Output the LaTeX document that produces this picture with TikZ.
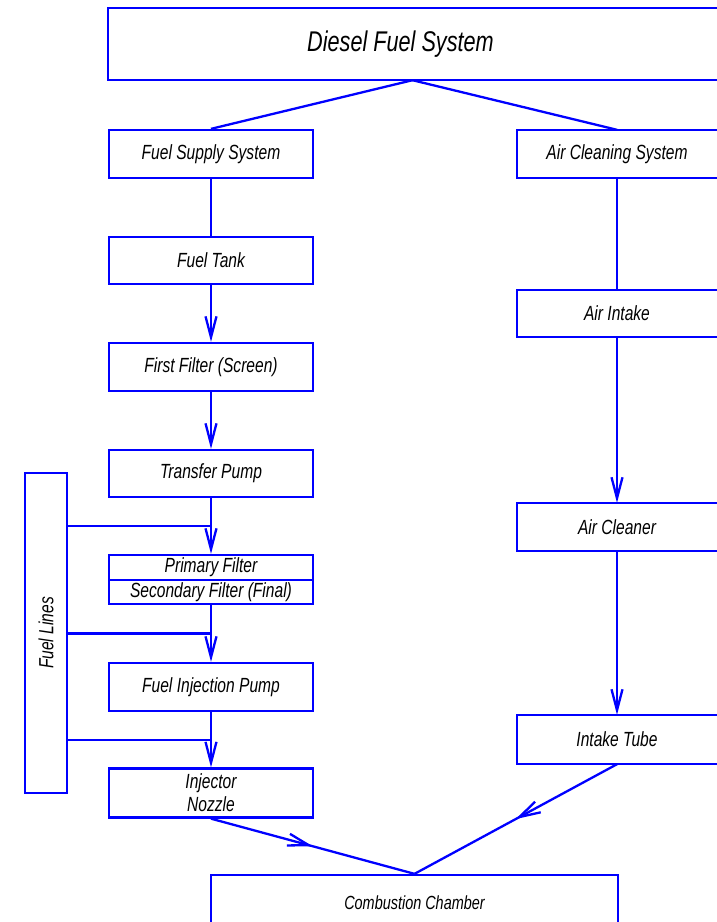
\documentclass[tikz,border=0pt]{standalone}
\usepackage{fontspec}
\setmainfont{Liberation Sans}[FakeStretch=0.76]
\usetikzlibrary{arrows.meta,decorations.markings,calc}
\definecolor{blu}{RGB}{0,0,255}
\begin{document}
\begin{tikzpicture}[x=1pt,y=-1pt,
  box/.style={draw=blu, line width=2.3pt, inner sep=0pt, align=center,
    font=\itshape\fontsize{20.5}{22}\selectfont},
  openbox/.style={inner sep=0pt, align=center,
    font=\itshape\fontsize{20.5}{22}\selectfont},
  txt/.style={inner sep=0pt, font=\itshape\fontsize{20.5}{22}\selectfont},
  ln/.style={draw=blu, line width=2.3pt},
  arr/.style={ln, -{Straight Barb[length=21pt,width=11pt]}},
  midarr/.style={ln, postaction={decorate},
    decoration={markings, mark=at position 0.5 with {\arrow{Straight Barb[length=21pt,width=12pt]}}}}]
\useasboundingbox (0,0) rectangle (717,922);
\clip (0,0) rectangle (717,922);
% top
\node[openbox, minimum width=609, minimum height=72, font=\itshape\fontsize{28.5}{30}\selectfont] (top) at (412.5,44) {\hspace*{-24pt}Diesel Fuel System};
% left column
\node[box, minimum width=204, minimum height=48] (fss) at (211,154) {Fuel Supply System};
\node[box, minimum width=204, minimum height=47] (ft) at (211,260.5) {Fuel Tank};
\node[box, minimum width=204, minimum height=48] (ff) at (211,367) {First Filter (Screen)};
\node[box, minimum width=204, minimum height=47] (tp) at (211,473.5) {Transfer Pump};
\node[box, minimum width=204, minimum height=25] (pf) at (211,567.5) {Primary Filter};
\node[box, minimum width=204, minimum height=24] (sf) at (211,592) {Secondary Filter (Final)};
\node[box, minimum width=204, minimum height=48] (fip) at (211,687) {Fuel Injection Pump};
\node[box, minimum width=204, minimum height=49, font=\itshape\fontsize{20.5}{23}\selectfont] (inj) at (211,793) {Injector\\Nozzle};
% right column (boxes run off the right edge)
\node[openbox, minimum width=200, minimum height=48] (acs) at (617,154) {Air Cleaning System};
\node[openbox, minimum width=200, minimum height=47] (ai) at (617,313.5) {Air Intake};
\node[openbox, minimum width=200, minimum height=48] (acl) at (617,527) {Air Cleaner};
\node[openbox, minimum width=200, minimum height=49] (it) at (617,739.5) {Intake Tube};
\foreach \n in {top,acs,ai,acl,it}
  \draw[ln] ($(\n.north east)+(20,0)$) -- (\n.north west) -- (\n.south west) -- ($(\n.south east)+(20,0)$);
% fuel lines
\node[box, minimum width=42, minimum height=320] (fl) at (46,633) {};
\node[txt, rotate=90] (fltxt) at (fl.center) {Fuel Lines};
% combustion chamber
\node[box, minimum width=407, minimum height=56, font=\itshape\fontsize{19}{21}\selectfont] (cc) at (414.5,903) {Combustion Chamber};
% connectors
\draw[ln] (top.south) -- (fss.north);
\draw[ln] (top.south) -- (acs.north);
\draw[ln] (fss.south) -- (ft.north);
\draw[arr] (ft.south) -- (ff.north);
\draw[arr] (ff.south) -- (tp.north);
\draw[arr] (tp.south) -- (pf.north);
\draw[arr] (sf.south) -- (fip.north);
\draw[arr] (fip.south) -- (inj.north);
\draw[ln] (acs.south) -- (ai.north);
\draw[arr] (ai.south) -- (acl.north);
\draw[arr] (acl.south) -- (it.north);
\draw[midarr] (inj.south) -- (cc.north);
\draw[midarr] (it.south) -- (cc.north);
% fuel line junctions
\coordinate (j1) at ($(tp.south)!0.5!(pf.north)$);
\coordinate (j2) at ($(sf.south)!0.5!(fip.north)$);
\coordinate (j3) at ($(fip.south)!0.5!(inj.north)$);
\draw[ln] (fl.east |- j1) -- (j1);
\draw[ln] (fl.east |- j2) -- (j2);
\draw[ln] (fl.east |- j3) -- (j3);
\end{tikzpicture}
\end{document}
